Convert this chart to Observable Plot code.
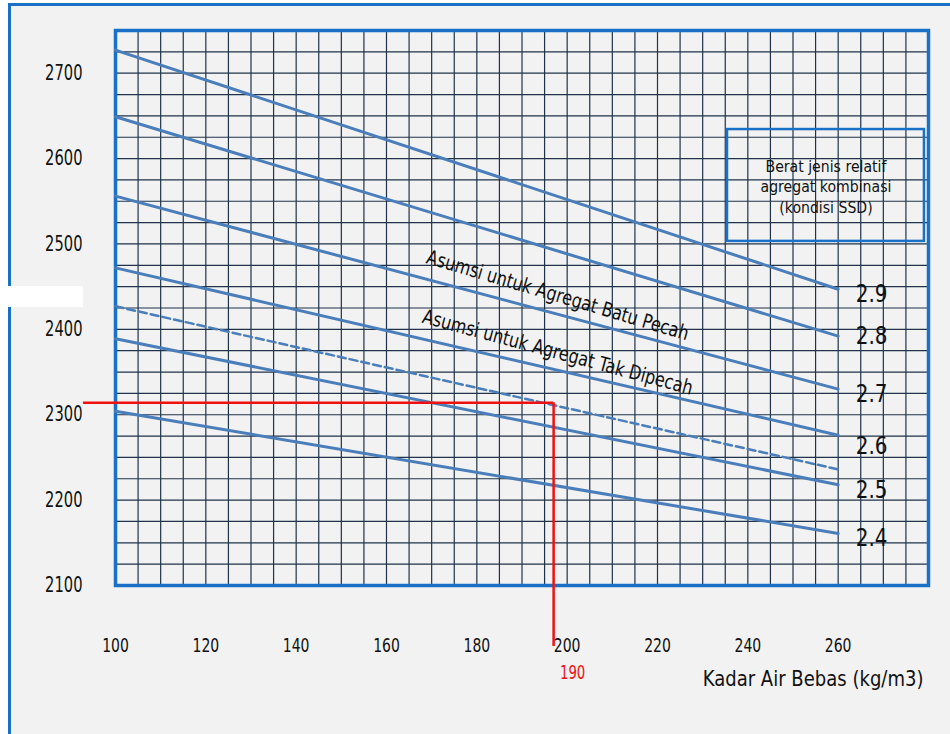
<!DOCTYPE html>
<html>
<head>
<meta charset="utf-8">
<script src="https://cdn.jsdelivr.net/npm/d3@7"></script>
<script src="https://cdn.jsdelivr.net/npm/@observablehq/plot@0.6"></script>
<style>
  html, body { margin: 0; padding: 0; background: #ffffff; width: 950px; height: 734px; overflow: hidden; }
  #page { position: relative; width: 950px; height: 734px; }
  #bg { position: absolute; left: 8px; top: 3px; width: 960px; height: 740px; background: #f2f2f2;
        border-left: 3px solid #1a70c6; border-top: 3px solid #1a70c6; }
  #patch { position: absolute; left: 0; top: 286px; width: 83px; height: 21px; background: #ffffff; }
  #chart { position: absolute; left: 0; top: 0; }
  #dbg { position: absolute; left: 120px; top: 700px; font: 10px monospace; color: #000; width: 800px; white-space: pre-wrap; }
</style>
</head>
<body>
<div id="page"><div id="bg"></div><div id="patch"></div><div id="chart"></div></div>
<script>
// ---- data ----
const seriesNames = ["2.9", "2.8", "2.7", "2.6", "dashed", "2.5", "2.4"];
const lineX = [100, 260];
const startValues = [2727, 2649, 2556, 2472, 2427, 2389, 2304];
const endValues   = [2447, 2392, 2330, 2276, 2236, 2218, 2161];
const dashedFlags = [false, false, false, false, true, false, false];

const labelNames = ["2.9", "2.8", "2.7", "2.6", "2.5", "2.4"];
const labelX = 267.4;
const labelY = [2441.6, 2392.8, 2324.5, 2263.1, 2211.3, 2155.9];

const xTicks = [100, 120, 140, 160, 180, 200, 220, 240, 260];
const yTicks = [2100, 2200, 2300, 2400, 2500, 2600, 2700];
const gridX = d3.range(100, 280.1, 5);
const gridY = d3.range(2100, 2750.1, 25);

const legendLines = ["Berat jenis relatif", "agregat kombinasi", "(kondisi SSD)"];
const legendBox = [{x1: 235.5, x2: 279.1, y1: 2503, y2: 2634}];
const legendCenter = [{x: 257.3, y: 2568}];

const noteTexts = ["Asumsi untuk Agregat Batu Pecah", "Asumsi untuk Agregat Tak Dipecah"];
const noteX = [197.9, 197.9];
const noteY = [2439.6, 2372.9];
const noteAngle = [16.5, 15];

const readoutX = 197;         // drawn position of the guide
const readoutY = 2314;
const readoutLeft = 92.9;     // start of horizontal guide
const readoutBottom = 2028.6; // end of vertical guide
const readoutLabel = "190";
const xTitle = "Kadar Air Bebas (kg/m3)";

// ---- tables ----
const rows = [];
seriesNames.forEach((s, i) => {
  rows.push({s, x: lineX[0], y: startValues[i], dashed: dashedFlags[i]});
  rows.push({s, x: lineX[1], y: endValues[i], dashed: dashedFlags[i]});
});
const labels = labelNames.map((n, i) => ({n, x: labelX, y: labelY[i]}));
const notes = noteTexts.map((t, i) => ({t, x: noteX[i], y: noteY[i], a: noteAngle[i]}));

const FONT = "'DejaVu Sans', sans-serif";
const BLUE = "#1a70c6";
const LINE = "#4a7ebb";
const GRID = "#1f334a";
const RED = "#ee1111";

const chart = Plot.plot({
  width: 950,
  height: 734,
  marginLeft: 115,
  marginRight: 22,
  marginTop: 30,
  marginBottom: 149,
  style: {background: "transparent", fontFamily: FONT, fontSize: "20px", color: "#111"},
  x: {domain: [100, 280]},
  y: {domain: [2100, 2750]},
  marks: [
    Plot.ruleX(gridX, {stroke: GRID, strokeWidth: 1.2}),
    Plot.ruleY(gridY, {stroke: GRID, strokeWidth: 1.2}),
    Plot.axisX({ticks: xTicks, tickSize: 0, tickPadding: 52, label: null, tickFormat: d => String(d), fontSize: 20}),
    Plot.axisY({ticks: yTicks, tickSize: 0, tickPadding: 33, label: null, tickFormat: d => String(d), fontSize: 21}),
    Plot.frame({stroke: BLUE, strokeWidth: 3.5}),
    Plot.line(rows.filter(d => !d.dashed), {x: "x", y: "y", z: "s", stroke: LINE, strokeWidth: 3}),
    Plot.line(rows.filter(d => d.dashed), {x: "x", y: "y", z: "s", stroke: LINE, strokeWidth: 2.5, strokeDasharray: "8,4"}),
    Plot.rect(legendBox, {x1: "x1", x2: "x2", y1: "y1", y2: "y2", fill: "none", stroke: BLUE, strokeWidth: 2.5}),
    Plot.text(legendCenter, {x: "x", y: "y", text: () => legendLines.join("\n"), fontSize: 16, lineHeight: 1.28, fill: "#111"}),
    Plot.text(labels, {x: "x", y: "y", text: "n", fontSize: 25, fill: "#111"}),
    Plot.text(notes, {x: "x", y: "y", text: "t", rotate: "a", fontSize: 20, fill: "#111"}),
    Plot.ruleY([readoutY], {x1: readoutLeft, x2: readoutX, stroke: RED, strokeWidth: 2.5}),
    Plot.ruleX([readoutX], {y1: readoutY, y2: readoutBottom, stroke: RED, strokeWidth: 2.5}),
    Plot.text([readoutLabel], {x: readoutX, frameAnchor: "bottom", dy: 93, dx: 19, text: d => d, fill: RED, fontSize: 19}),
    Plot.text([xTitle], {frameAnchor: "bottom-right", dy: 100, dx: -5, textAnchor: "end", text: d => d, fontSize: 22, fill: "#111"})
  ]
});
document.getElementById("chart").appendChild(chart);

// the original lettering is horizontally narrow: squeeze each text about its anchor
function squeezeFactor(s) {
  if (/^\d+$/.test(s)) return 0.7;
  if (/^\d\.\d$/.test(s)) return 0.8;
  if (s.startsWith("Berat")) return 0.88;
  if (s.startsWith("Asumsi")) return 0.8;
  return 0.82;
}
const samples = [];
d3.select(chart).selectAll("text").each(function(d, i) {
  if (i < 3 || i === 20) samples.push(this.outerHTML.slice(0, 200));
  const k = squeezeFactor(this.textContent.trim());
  const sc = chart.createSVGTransform();
  sc.setScale(k, 1);
  this.transform.baseVal.appendItem(sc);
  const xs = this.x.baseVal;
  for (let j = 0; j < xs.numberOfItems; j++) {
    const it = xs.getItem(j);
    it.value = it.value / k;
  }
});
</script>
</body>
</html>
